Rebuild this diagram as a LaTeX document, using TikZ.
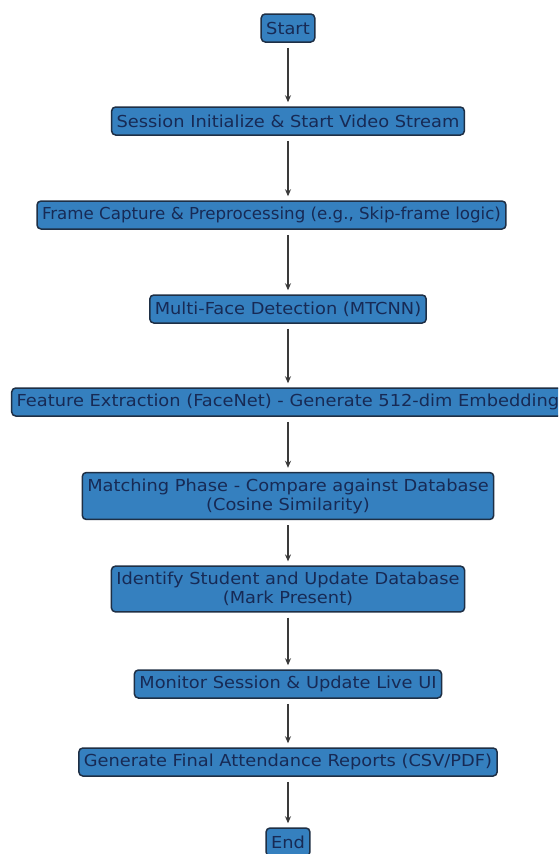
\documentclass[tikz,border=0pt]{standalone}
\usepackage{fontspec}
\setmainfont[FakeStretch=1.08]{DejaVu Sans}
\usetikzlibrary{arrows.meta}
\definecolor{boxfill}{HTML}{3580BF}
\definecolor{boxline}{HTML}{1E2F45}
\definecolor{boxtext}{HTML}{172A55}
\definecolor{arrowc}{HTML}{3A3A3A}
\begin{document}
\begin{tikzpicture}[x=1pt,y=-1pt,
  stepbox/.style={draw=boxline, line width=1.5pt, fill=boxfill, rounded corners=4pt,
    text=boxtext, font=\fontsize{16.5}{19}\selectfont, align=center,
    inner xsep=5pt, inner ysep=6pt, minimum height=28pt},
  flow/.style={draw=arrowc, line width=1.1pt, shorten <=5pt, shorten >=4pt,
    -{Stealth[length=7pt,width=6pt]}}]
\useasboundingbox (0,0) rectangle (558,854);
\clip (0,0) rectangle (558,854);
\fill[white] (0,0) rectangle (558,854);
\node[stepbox] (n0) at (288,28) {Start};
\node[stepbox] (n1) at (288,121) {Session Initialize \& Start Video Stream};
\node[stepbox] (n2) at (271.5,215) {\scalebox{0.935}[1]{Frame Capture \& Preprocessing (e.g., Skip-frame logic)}};
\node[stepbox] (n3) at (288,309) {Multi-Face Detection (MTCNN)};
\node[stepbox] (n4) at (288,402) {Feature Extraction (FaceNet) - Generate 512-dim Embedding};
\node[stepbox] (n5) at (288,496) {Matching Phase - Compare against Database\\(Cosine Similarity)};
\node[stepbox] (n6) at (288,589) {Identify Student and Update Database\\(Mark Present)};
\node[stepbox] (n7) at (288,684) {Monitor Session \& Update Live UI};
\node[stepbox] (n8) at (288,762) {Generate Final Attendance Reports (CSV/PDF)};
\node[stepbox] (n9) at (288,842) {End};
\draw[flow] (n0) -- (n1);
\draw[flow] (n1) -- (n1 |- n2.north);
\draw[flow] (n1 |- n2.south) -- (n3);
\foreach \a/\b in {n3/n4,n4/n5,n5/n6,n6/n7,n7/n8,n8/n9}
  \draw[flow] (\a) -- (\b);
\end{tikzpicture}
\end{document}
